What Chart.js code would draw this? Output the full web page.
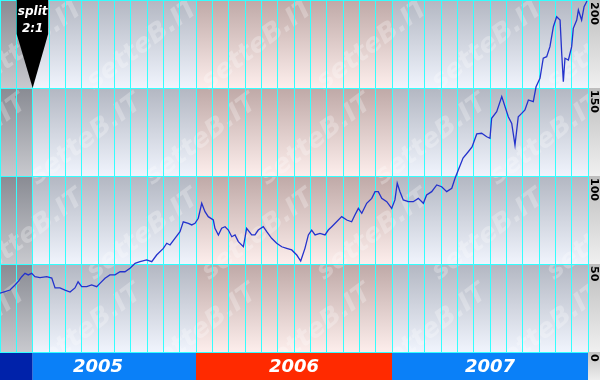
<!DOCTYPE html>
<html lang="it">
<head>
    <meta charset="UTF-8">
    <meta name="viewport" content="width=device-width, initial-scale=1.0">
    <title>Grafico storico - setteB.IT</title>
    <script src="https://cdn.jsdelivr.net/npm/chart.js"></script>
    <style>
        html, body { margin: 0; padding: 0; background: #fff; }
        .contenitore { width: 600px; height: 380px; position: relative; }
    </style>
</head>
<body>

<div class="contenitore">
    <canvas id="grafico"></canvas>
</div>

<script>
    // Data: months since 1 Jan 2005, closing price (split adjusted)
    const mesi = [
        0.00, 0.31, 0.61, 0.92, 1.10, 1.33, 1.53, 1.73, 1.94, 2.14,
        2.45, 2.86, 3.17, 3.37, 3.67, 3.98, 4.29, 4.59, 4.78, 5.00,
        5.31, 5.61, 5.92, 6.12, 6.43, 6.73, 7.04, 7.35, 7.65, 7.96,
        8.27, 8.57, 8.98, 9.29, 9.59, 10.00, 10.21, 10.41, 10.71, 11.02,
        11.22, 11.53, 11.74, 11.94, 12.14, 12.35, 12.55, 12.75, 13.06, 13.16,
        13.37, 13.57, 13.78, 13.98, 14.19, 14.39, 14.59, 14.90, 15.10, 15.41,
        15.61, 15.81, 16.12, 16.33, 16.63, 16.94, 17.25, 17.55, 17.86, 18.17,
        18.41, 18.67, 18.88, 19.08, 19.29, 19.59, 19.90, 20.10, 20.31, 20.61,
        20.92, 21.23, 21.53, 21.73, 21.94, 22.15, 22.45, 22.76, 22.96, 23.16,
        23.37, 23.68, 23.98, 24.18, 24.32, 24.49, 24.69, 25.00, 25.30, 25.61,
        25.92, 26.12, 26.43, 26.74, 27.04, 27.35, 27.66, 27.86, 28.06, 28.35,
        28.67, 28.90, 29.19, 29.49, 29.80, 30.00, 30.10, 30.41, 30.72, 30.92,
        31.12, 31.33, 31.53, 31.73, 31.94, 32.14, 32.35, 32.65, 32.82, 33.06,
        33.26, 33.47, 33.67, 33.88, 34.08, 34.29, 34.39, 34.49, 34.59, 34.80,
        35.00, 35.10, 35.31, 35.41, 35.61, 35.76, 35.94
    ];
    const prezzi = [
        33.4, 34.3, 35.2, 38.1, 39.9, 42.8, 44.7, 43.8, 44.7, 42.8,
        42.3, 42.8, 42.0, 36.4, 36.4, 35.2, 34.1, 36.4, 39.9, 37.1,
        37.1, 38.1, 37.1, 39.0, 41.9, 43.8, 43.8, 45.6, 45.6, 47.6,
        50.4, 51.3, 52.3, 51.3, 55.1, 58.9, 61.8, 60.8, 64.6, 68.4,
        74.0, 73.1, 72.2, 73.1, 76.0, 84.5, 79.7, 76.9, 75.0, 70.3,
        66.5, 70.3, 71.2, 69.3, 65.5, 66.5, 62.7, 59.8, 70.3, 66.5,
        66.5, 69.3, 71.2, 68.4, 64.6, 61.8, 59.8, 58.9, 58.0, 55.1,
        51.7, 58.9, 66.5, 69.3, 66.5, 67.4, 66.5, 69.3, 71.2, 74.0,
        76.9, 75.0, 74.0, 77.8, 81.6, 78.8, 84.5, 87.3, 91.1, 91.1,
        87.3, 85.4, 81.6, 86.4, 95.9, 91.1, 86.4, 85.4, 85.4, 87.3,
        84.5, 89.2, 91.1, 94.9, 93.9, 91.1, 93.0, 98.7, 103.4, 110.2,
        113.8, 116.5, 123.9, 124.3, 122.3, 121.4, 132.8, 136.5, 145.1, 139.4,
        133.7, 129.9, 117.6, 133.7, 135.6, 137.5, 143.2, 142.2, 150.7, 155.5,
        166.9, 167.8, 173.5, 184.8, 190.5, 188.6, 169.7, 153.6, 166.9, 165.9,
        173.5, 183.9, 188.6, 194.3, 188.6, 196.2, 199.4
    ];

    const anni = ['2005', '2006', '2007'];
    const etichetteY = [0, 50, 100, 150, 200];
    const meseSplit = 2;          // split 2:1 at end of February 2005
    const testoSplit = ['split', '2:1'];
    const filigrana = 'setteB.IT';

    // Background: gradient cells per year and per 50-unit band
    const sfondoPlugin = {
        id: 'sfondo',
        beforeDraw(chart) {
            const { ctx, chartArea: a, scales: { x, y } } = chart;
            const segmenti = [
                { da: 0, a: meseSplit, alto: '#898b93', basso: '#c8c9ce', banda: '#0022aa' },
                { da: meseSplit, a: 12, alto: '#b3b7c2', basso: '#f0f4fd', banda: '#0a80f8' },
                { da: 12, a: 24, alto: '#bfa9a7', basso: '#fdeeec', banda: '#ff2a00' },
                { da: 24, a: 36, alto: '#b3b7c2', basso: '#f0f4fd', banda: '#0a80f8' }
            ];
            ctx.save();
            for (let i = 0; i < etichetteY.length - 1; i++) {
                const yTop = y.getPixelForValue(etichetteY[i + 1]);
                const yBot = y.getPixelForValue(etichetteY[i]);
                segmenti.forEach(s => {
                    const x0 = x.getPixelForValue(s.da);
                    const x1 = x.getPixelForValue(s.a);
                    const g = ctx.createLinearGradient(0, yTop, 0, yBot);
                    g.addColorStop(0, s.alto);
                    g.addColorStop(1, s.basso);
                    ctx.fillStyle = g;
                    ctx.fillRect(x0, yTop, x1 - x0, yBot - yTop);
                });
                // right axis column
                const g2 = ctx.createLinearGradient(0, yTop, 0, yBot);
                g2.addColorStop(0, '#bdbdbd');
                g2.addColorStop(1, '#f0f0f0');
                ctx.fillStyle = g2;
                ctx.fillRect(a.right, yTop, chart.width - a.right, yBot - yTop);
            }
            // bottom year band
            segmenti.forEach(s => {
                const x0 = x.getPixelForValue(s.da);
                const x1 = x.getPixelForValue(s.a);
                ctx.fillStyle = s.banda;
                ctx.fillRect(x0, a.bottom, x1 - x0, chart.height - a.bottom);
            });
            const g3 = ctx.createLinearGradient(0, a.bottom, 0, chart.height);
            g3.addColorStop(0, '#c4c4c4');
            g3.addColorStop(1, '#eeeeee');
            ctx.fillStyle = g3;
            ctx.fillRect(a.right, a.bottom, chart.width - a.right, chart.height - a.bottom);

            // year labels
            ctx.fillStyle = '#ffffff';
            ctx.font = 'bold italic 18px "DejaVu Sans"';
            ctx.textAlign = 'center';
            ctx.textBaseline = 'middle';
            anni.forEach((anno, i) => {
                ctx.fillText(anno, x.getPixelForValue(i * 12 + 6), (a.bottom + chart.height) / 2 + 1);
            });

            // watermark
            ctx.beginPath();
            ctx.rect(a.left, a.top, a.right - a.left, a.bottom - a.top);
            ctx.clip();
            ctx.font = 'bold italic 26px "DejaVu Sans"';
            ctx.fillStyle = 'rgba(255, 255, 255, 0.26)';
            for (let r = 0; r < 5; r++) {
                const cy = 45 + r * 95;
                const off = (r % 2) * -57;
                for (let c = -2; c < 6; c++) {
                    const cx = 258 + off + c * 115;
                    ctx.save();
                    ctx.translate(cx, cy);
                    ctx.rotate(-37 * Math.PI / 180);
                    ctx.fillText(filigrana, 0, 0);
                    ctx.restore();
                }
            }
            ctx.restore();
        }
    };

    // Split marker and right-hand labels
    const notePlugin = {
        id: 'note',
        afterDraw(chart) {
            const { ctx, chartArea: a, scales: { x, y } } = chart;
            const xs = x.getPixelForValue(meseSplit);
            const punta = y.getPixelForValue(150);
            ctx.save();
            ctx.fillStyle = '#000000';
            ctx.beginPath();
            ctx.moveTo(xs - 16, a.top);
            ctx.lineTo(xs + 15.5, a.top);
            ctx.lineTo(xs + 15.5, a.top + 34);
            ctx.lineTo(xs, punta);
            ctx.lineTo(xs - 16, a.top + 34);
            ctx.closePath();
            ctx.fill();
            ctx.fillStyle = '#ffffff';
            ctx.font = 'bold italic 12px "DejaVu Sans"';
            ctx.textAlign = 'center';
            ctx.textBaseline = 'middle';
            ctx.fillText(testoSplit[0], xs, a.top + 12);
            ctx.fillText(testoSplit[1], xs, a.top + 29);

            // y labels, rotated, reading downwards from each tick
            ctx.fillStyle = '#000000';
            ctx.font = 'bold 11px "DejaVu Sans"';
            ctx.textAlign = 'left';
            ctx.textBaseline = 'middle';
            etichetteY.forEach(v => {
                ctx.save();
                ctx.translate(a.right + 6, y.getPixelForValue(v) + 2);
                ctx.rotate(Math.PI / 2);
                ctx.fillText(String(v), 0, 0);
                ctx.restore();
            });
            ctx.restore();
        }
    };

    const ctx = document.getElementById('grafico').getContext('2d');

    const grafico = new Chart(ctx, {
        type: 'line',
        data: {
            datasets: [{
                data: mesi.map((m, i) => ({ x: m, y: prezzi[i] })),
                borderColor: '#2432cc',
                borderWidth: 1.3,
                pointRadius: 0,
                tension: 0
            }]
        },
        options: {
            responsive: true,
            maintainAspectRatio: false,
            animation: false,
            layout: { padding: { left: 0, top: 0, right: 12, bottom: 28 } },
            plugins: {
                legend: { display: false },
                tooltip: { enabled: false }
            },
            scales: {
                x: {
                    type: 'linear',
                    min: 0,
                    max: 36,
                    ticks: { display: false, stepSize: 1, maxTicksLimit: 40 },
                    grid: { color: '#33ffff', lineWidth: 1, drawTicks: false },
                    border: { display: false }
                },
                y: {
                    position: 'right',
                    min: 0,
                    max: 200,
                    ticks: { display: false, stepSize: 50 },
                    grid: { color: '#33ffff', lineWidth: 1, drawTicks: false },
                    border: { display: false }
                }
            }
        },
        plugins: [sfondoPlugin, notePlugin]
    });
</script>

</body>
</html>
